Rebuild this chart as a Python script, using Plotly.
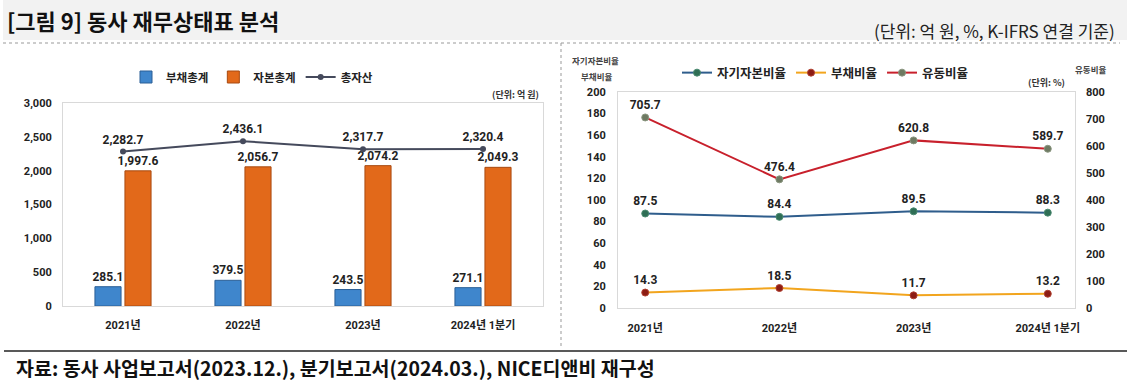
import plotly.graph_objects as go

W, H = 1127, 387
categories = ["2021년", "2022년", "2023년", "2024년 1분기"]
debt_total = [285.1, 379.5, 243.5, 271.1]
equity_total = [1997.6, 2056.7, 2074.2, 2049.3]
total_assets = [2282.7, 2436.1, 2317.7, 2320.4]

equity_ratio = [87.5, 84.4, 89.5, 88.3]
debt_ratio = [14.3, 18.5, 11.7, 13.2]
current_ratio = [705.7, 476.4, 620.8, 589.7]

FONT = "Noto Sans CJK KR"
NUMFONT = "Roboto, Noto Sans CJK KR"


def px(x):
    return x / W


def py(y):
    return 1 - y / H


def fmt(v):
    return f"{v:,.1f}"


LBL = dict(size=12, color="#222", family=NUMFONT, weight="bold")

fig = go.Figure()

# Left chart
fig.add_trace(go.Bar(
    x=categories, y=debt_total, name="부채총계",
    marker=dict(color="#3f86cc", line=dict(color="#2a5f96", width=1)),
    text=[fmt(v) for v in debt_total], textposition="outside", constraintext="none",
    textfont=LBL, cliponaxis=False, xaxis="x", yaxis="y", legend="legend",
))
fig.add_trace(go.Bar(
    x=categories, y=equity_total, name="자본총계",
    marker=dict(color="#e2691a", line=dict(color="#a84a10", width=1)),
    text=[fmt(v) for v in equity_total], textposition="outside", constraintext="none",
    textfont=LBL, cliponaxis=False, xaxis="x", yaxis="y", legend="legend",
))
fig.add_trace(go.Scatter(
    x=categories, y=total_assets, name="총자산", mode="lines+markers+text",
    line=dict(color="#454a5c", width=2), marker=dict(size=6, color="#454a5c"),
    text=[fmt(v) for v in total_assets], textposition="top center",
    textfont=LBL, cliponaxis=False, xaxis="x", yaxis="y", legend="legend",
))

# Right chart
fig.add_trace(go.Scatter(
    x=categories, y=equity_ratio, name="자기자본비율", mode="lines+markers+text",
    line=dict(color="#2f5d8c", width=2),
    marker=dict(size=7, color="#2f6e55", line=dict(color="#4a8a70", width=1)),
    text=[fmt(v) for v in equity_ratio], textposition="top center",
    textfont=LBL, cliponaxis=False, xaxis="x2", yaxis="y2", legend="legend2",
))
fig.add_trace(go.Scatter(
    x=categories, y=debt_ratio, name="부채비율", mode="lines+markers+text",
    line=dict(color="#f2a51e", width=2),
    marker=dict(size=7, color="#8c1c14", line=dict(color="#b04030", width=1)),
    text=[fmt(v) for v in debt_ratio], textposition="top center",
    textfont=LBL, cliponaxis=False, xaxis="x2", yaxis="y2", legend="legend2",
))
fig.add_trace(go.Scatter(
    x=categories, y=current_ratio, name="유동비율", mode="lines+markers+text",
    line=dict(color="#c8202c", width=2),
    marker=dict(size=7, color="#6e7a62", line=dict(color="#8a9680", width=1)),
    text=[fmt(v) for v in current_ratio], textposition="top center",
    textfont=LBL, cliponaxis=False, xaxis="x2", yaxis="y3", legend="legend2",
))

TICKF = dict(size=11, color="#222", family=NUMFONT, weight="bold")
frame = dict(showgrid=False, zeroline=False, showline=True, linecolor="#d9d9d9",
             linewidth=1, mirror=True, ticks="", automargin=False, tickfont=TICKF)

fig.update_layout(
    width=W, height=H, margin=dict(l=0, r=0, t=0, b=0, autoexpand=False),
    paper_bgcolor="white", plot_bgcolor="white",
    font=dict(family=FONT, color="#222"),
    barmode="group", bargap=0.5, bargroupgap=0.13,
    showlegend=True,
    xaxis=dict(domain=[px(63), px(543)], anchor="y", ticklabelstandoff=9, **frame),
    yaxis=dict(domain=[py(306), py(103)], anchor="x", range=[0, 3000], dtick=500,
               tickformat=",", ticklabelstandoff=8, **frame),
    xaxis2=dict(domain=[px(618), px(1075)], anchor="y2", ticklabelstandoff=10, **frame),
    yaxis2=dict(domain=[py(308), py(92)], anchor="x2", range=[0, 200], dtick=20,
                ticklabelstandoff=9, **frame),
    yaxis3=dict(overlaying="y2", anchor="x2", side="right", range=[0, 800], dtick=100,
                showgrid=False, zeroline=False, showline=False, ticks="", automargin=False,
                ticklabelstandoff=10, tickfont=TICKF),
    legend=dict(orientation="h", x=px(126), y=py(77), xanchor="left", yanchor="middle",
                font=dict(size=11.5, family=FONT, color="#222", weight="bold"),
                bgcolor="rgba(0,0,0,0)", itemwidth=30, tracegroupgap=0),
    legend2=dict(orientation="h", x=px(677), y=py(73), xanchor="left", yanchor="middle",
                 font=dict(size=12.5, family=FONT, color="#222", weight="bold"),
                 bgcolor="rgba(0,0,0,0)", itemwidth=30),
)

shapes = [
    dict(type="rect", xref="paper", yref="paper", x0=px(3), x1=1, y0=py(40), y1=1,
         fillcolor="#f2f2f2", line=dict(width=0), layer="below"),
    dict(type="line", xref="paper", yref="paper", x0=px(3), x1=px(1120), y0=py(43), y1=py(43),
         line=dict(color="#999", width=1, dash="dot")),
    dict(type="line", xref="paper", yref="paper", x0=px(561), x1=px(561), y0=py(43), y1=py(349),
         line=dict(color="#999", width=1, dash="dot")),
    dict(type="line", xref="paper", yref="paper", x0=px(4), x1=1, y0=py(351), y1=py(351),
         line=dict(color="#222", width=1.5)),
]
fig.update_layout(shapes=shapes)

annotations = [
    dict(text="<b>[그림 9] 동사 재무상태표 분석</b>", x=px(5), y=py(20), xanchor="left", yanchor="middle",
         font=dict(size=22, color="#111", family=FONT)),
    dict(text="(단위: 억 원, %, K-IFRS 연결 기준)", x=px(1117), y=py(30), xanchor="right", yanchor="middle",
         font=dict(size=17, color="#222", family=FONT)),
    dict(text="<b>(단위: 억 원)</b>", x=px(541), y=py(94), xanchor="right", yanchor="middle",
         font=dict(size=9, color="#333", family=FONT)),
    dict(text="<b>(단위: %)</b>", x=px(1067), y=py(83), xanchor="right", yanchor="middle",
         font=dict(size=9, color="#333", family=FONT)),
    dict(text="<b>자기자본비율</b>", x=px(595), y=py(60), xanchor="center", yanchor="middle",
         font=dict(size=8.5, color="#444", family=FONT)),
    dict(text="<b>부채비율</b>", x=px(596), y=py(76), xanchor="center", yanchor="middle",
         font=dict(size=8.5, color="#444", family=FONT)),
    dict(text="<b>유동비율</b>", x=px(1090), y=py(69), xanchor="center", yanchor="middle",
         font=dict(size=8.5, color="#444", family=FONT)),
    dict(text="<b>자료: 동사 사업보고서(2023.12.), 분기보고서(2024.03.), NICE디앤비 재구성</b>",
         x=px(14), y=py(367), xanchor="left", yanchor="middle",
         font=dict(size=19.5, color="#111", family=FONT)),
]
for a in annotations:
    a.update(xref="paper", yref="paper", showarrow=False)
fig.update_layout(annotations=annotations)

fig.write_html("out.html", config={"displayModeBar": False},
               post_script="document.body.style.margin='0';")
